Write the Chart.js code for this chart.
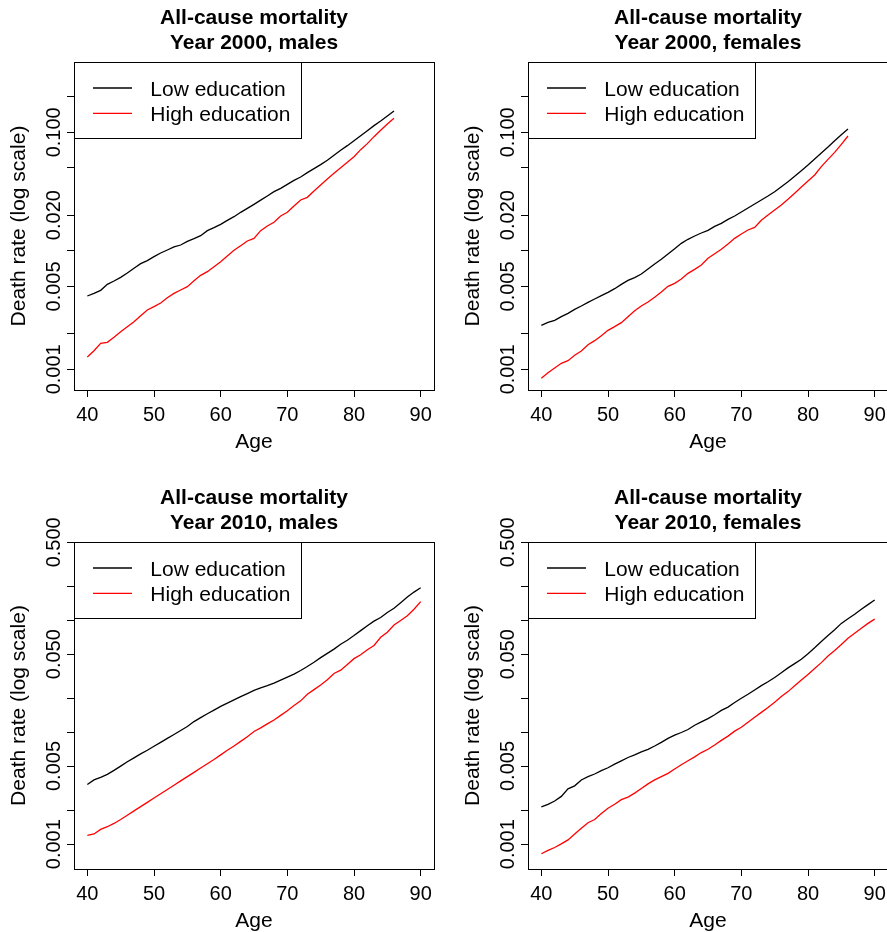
<!DOCTYPE html>
<html>
<head>
<meta charset="utf-8">
<script src="https://cdn.jsdelivr.net/npm/chart.js@4.4.1/dist/chart.umd.min.js"></script>
<style>
  html, body { margin: 0; padding: 0; background: #fff; }
  #wrap { position: relative; width: 887px; height: 932px; overflow: hidden; background: #fff; }
  canvas { position: absolute; display: block; }
</style>
</head>
<body>
<div id="wrap">
  <canvas id="m2000" width="443" height="466" style="left:0px;top:0px;"></canvas>
  <canvas id="f2000" width="460" height="466" style="left:443px;top:0px;"></canvas>
  <canvas id="m2010" width="443" height="466" style="left:0px;top:466px;"></canvas>
  <canvas id="f2010" width="460" height="466" style="left:443px;top:466px;"></canvas>
</div>
<script>
// Age groups
const ages2000 = [40,41,42,43,44,45,46,47,48,49,50,51,52,53,54,55,56,57,58,59,60,61,62,63,64,65,66,67,68,69,70,71,72,73,74,75,76,77,78,79,80,81,82,83,84,85,86];
const ages2010 = [40,41,42,43,44,45,46,47,48,49,50,51,52,53,54,55,56,57,58,59,60,61,62,63,64,65,66,67,68,69,70,71,72,73,74,75,76,77,78,79,80,81,82,83,84,85,86,87,88,89,90];

// Death rates, year 2000
const males2000Low = [0.004156,0.004376,0.004639,0.005212,0.005562,0.005972,0.006497,0.007112,0.007788,0.008255,0.008923,0.009582,0.01016,0.01077,0.01119,0.01202,0.01266,0.01342,0.01479,0.01568,0.01672,0.01808,0.01941,0.02112,0.02283,0.02467,0.02675,0.02900,0.03155,0.03366,0.03638,0.03932,0.04196,0.04564,0.04933,0.05333,0.05800,0.06391,0.07044,0.07716,0.08503,0.09367,0.1032,0.1138,0.1246,0.1373,0.1512];
const males2000High = [0.001270,0.001436,0.001656,0.001689,0.001861,0.002078,0.002290,0.002523,0.002835,0.003166,0.003378,0.003627,0.004022,0.004376,0.004669,0.004981,0.005597,0.006209,0.006668,0.007346,0.008093,0.009040,0.01009,0.01105,0.01210,0.01274,0.01479,0.01619,0.01739,0.01967,0.02112,0.02388,0.02684,0.02827,0.03196,0.03592,0.04036,0.04506,0.05029,0.05580,0.06229,0.07137,0.08020,0.09188,0.1039,0.1175,0.1312];
const females2000Low = [0.002350,0.002490,0.002589,0.002781,0.002967,0.003206,0.003421,0.003674,0.003919,0.004182,0.004462,0.004790,0.005212,0.005634,0.005934,0.006372,0.007021,0.007737,0.008472,0.009397,0.01042,0.01156,0.01250,0.01333,0.01413,0.01488,0.01609,0.01705,0.01843,0.01967,0.02126,0.02297,0.02483,0.02684,0.02900,0.03155,0.03477,0.03831,0.04250,0.04746,0.05298,0.05953,0.06689,0.07515,0.08502,0.09550,0.1066];
const females2000High = [0.000839,0.000937,0.001026,0.001123,0.001183,0.001312,0.001427,0.001614,0.001744,0.001922,0.002132,0.002290,0.002475,0.002781,0.003125,0.003421,0.003698,0.004048,0.004491,0.005013,0.005314,0.005781,0.006454,0.006975,0.007590,0.008639,0.009430,0.01029,0.01141,0.01274,0.01387,0.01498,0.01578,0.01808,0.02005,0.02210,0.02435,0.02719,0.03055,0.03455,0.03882,0.04362,0.05129,0.05914,0.06775,0.07916,0.09307];

// Death rates, year 2010
const males2010Low = [0.003414,0.003754,0.003965,0.004213,0.004571,0.004993,0.005452,0.005916,0.006417,0.006916,0.007503,0.008135,0.008828,0.009575,0.01039,0.01127,0.01248,0.01353,0.01468,0.01582,0.01705,0.01824,0.01952,0.02089,0.02221,0.02369,0.02493,0.02614,0.02759,0.02934,0.03117,0.03313,0.03572,0.03874,0.04230,0.04653,0.05081,0.05550,0.06142,0.06664,0.07330,0.08119,0.08985,0.09879,0.1064,0.1179,0.1287,0.1444,0.1621,0.1795,0.1961];
const males2010High = [0.001201,0.001234,0.001357,0.001433,0.001533,0.001663,0.001816,0.001984,0.002168,0.002367,0.002585,0.002823,0.003084,0.003369,0.003680,0.004018,0.004388,0.004793,0.005235,0.005717,0.006288,0.006916,0.007551,0.008305,0.009131,0.01018,0.01097,0.01190,0.01291,0.01419,0.01561,0.01740,0.01913,0.02191,0.02409,0.02649,0.02953,0.03359,0.03595,0.04034,0.04560,0.04945,0.05473,0.05979,0.07086,0.07847,0.09107,0.1001,0.1101,0.1261,0.1474];
const females2010Low = [0.002152,0.002273,0.002432,0.002675,0.003126,0.003323,0.003754,0.004018,0.004242,0.004540,0.004825,0.005200,0.005566,0.005956,0.006288,0.006683,0.007056,0.007551,0.008135,0.008828,0.009447,0.009972,0.01060,0.01158,0.01239,0.01326,0.01438,0.01571,0.01682,0.01849,0.02020,0.02191,0.02393,0.02614,0.02836,0.03097,0.03406,0.03771,0.04118,0.04497,0.05047,0.05703,0.06487,0.07329,0.08282,0.09421,0.1036,0.1139,0.1261,0.1387,0.1525];
const females2010High = [0.000821,0.000879,0.000934,0.001007,0.001092,0.001234,0.001385,0.001554,0.001663,0.001879,0.002095,0.002273,0.002499,0.002638,0.002862,0.003147,0.003462,0.003754,0.004018,0.004300,0.004698,0.005131,0.005566,0.006036,0.006594,0.007056,0.007704,0.008475,0.009256,0.01025,0.01112,0.01231,0.01363,0.01509,0.01671,0.01862,0.02089,0.02313,0.02614,0.02934,0.03291,0.03719,0.04202,0.04813,0.05401,0.06103,0.06942,0.07688,0.08512,0.09422,0.1029];

// Axis ticks and labels
const xTicks = [40, 50, 60, 70, 80, 90];
const yTicks2000 = [0.001, 0.002, 0.005, 0.01, 0.02, 0.05, 0.1, 0.2];
const yLabelValues2000 = [0.001, 0.005, 0.02, 0.1];
const yLabels2000 = ['0.001', '0.005', '0.020', '0.100'];
const yTicks2010 = [0.001, 0.002, 0.005, 0.01, 0.02, 0.05, 0.1, 0.2, 0.5];
const yLabelValues2010 = [0.001, 0.005, 0.05, 0.5];
const yLabels2010 = ['0.001', '0.005', '0.050', '0.500'];

const seriesNames = ['Low education', 'High education'];
const seriesColors = ['#000000', '#ff0000'];
const mainTitle = 'All-cause mortality';
const xTitle = 'Age';
const yTitle = 'Death rate (log scale)';

const FONT = '"Liberation Sans", Arial, Helvetica, sans-serif';

// Frame, legend and text drawn in base-graphics style
const framePlugin = {
  id: 'frame',
  afterDraw(chart) {
    const p = chart.options.plugins.frame;
    const ctx = chart.ctx;
    const a = chart.chartArea;
    const ys = chart.scales.y;
    const xs = chart.scales.x;
    const cx = (a.left + a.right) / 2;
    ctx.save();
    ctx.fillStyle = '#000';
    ctx.strokeStyle = '#000';
    ctx.lineWidth = 1;

    // plot box
    ctx.strokeRect(Math.round(a.left) + 0.5, Math.round(a.top) + 0.5,
                   Math.round(a.right - a.left), Math.round(a.bottom - a.top));

    // legend
    const lx = Math.round(a.left) + 0.5, ly = Math.round(a.top) + 0.5;
    ctx.fillStyle = '#fff';
    ctx.fillRect(lx, ly, 227, 76);
    ctx.strokeStyle = '#000';
    ctx.strokeRect(lx, ly, 227, 76);
    ctx.font = '21px ' + FONT;
    ctx.textAlign = 'left';
    ctx.textBaseline = 'alphabetic';
    for (let i = 0; i < seriesNames.length; i++) {
      const yy = a.top + 26 + i * 25.4;
      ctx.strokeStyle = seriesColors[i];
      ctx.lineWidth = 1.3;
      ctx.beginPath();
      ctx.moveTo(a.left + 19, yy);
      ctx.lineTo(a.left + 58, yy);
      ctx.stroke();
      ctx.fillStyle = '#000';
      ctx.fillText(seriesNames[i], a.left + 76.3, yy + 7.8);
    }

    // titles
    ctx.fillStyle = '#000';
    ctx.textAlign = 'center';
    ctx.font = 'bold 21px ' + FONT;
    ctx.fillText(mainTitle, cx, a.top - 38.5);
    ctx.fillText(p.subtitle, cx, a.top - 13.3);

    // x tick labels
    ctx.font = '20px ' + FONT;
    xTicks.forEach(v => {
      ctx.fillText(String(v), xs.getPixelForValue(v), a.bottom + 31);
    });

    // y tick labels (parallel to the axis)
    p.yLabelValues.forEach((v, i) => {
      ctx.save();
      ctx.translate(a.left - 14, ys.getPixelForValue(v));
      ctx.rotate(-Math.PI / 2);
      ctx.fillText(p.yLabels[i], 0, 0);
      ctx.restore();
    });

    // axis titles
    ctx.font = '21px ' + FONT;
    ctx.fillText(xTitle, cx, a.bottom + 57.5);
    ctx.save();
    ctx.translate(a.left - 49.5, (a.top + a.bottom) / 2);
    ctx.rotate(-Math.PI / 2);
    ctx.fillText(yTitle, 0, 0);
    ctx.restore();

    ctx.restore();
  }
};

function makePanel(id, spec) {
  const toPts = (arr) => spec.ages.map((a, i) => ({ x: a, y: arr[i] }));
  return new Chart(document.getElementById(id), {
    type: 'line',
    data: {
      datasets: [
        { label: seriesNames[0], data: toPts(spec.low), borderColor: seriesColors[0], borderWidth: 1.3, pointRadius: 0, tension: 0, fill: false },
        { label: seriesNames[1], data: toPts(spec.high), borderColor: seriesColors[1], borderWidth: 1.3, pointRadius: 0, tension: 0, fill: false }
      ]
    },
    options: {
      responsive: false,
      animation: false,
      devicePixelRatio: 1,
      events: [],
      layout: { padding: { top: spec.padTop, right: spec.padRight, left: 0, bottom: 0 } },
      plugins: {
        legend: { display: false },
        tooltip: { enabled: false },
        title: { display: false },
        frame: { subtitle: spec.subtitle, yLabelValues: spec.yLabelValues, yLabels: spec.yLabels }
      },
      scales: {
        x: {
          type: 'linear',
          min: 38, max: 92,
          afterBuildTicks: s => { s.ticks = xTicks.map(v => ({ value: v })); },
          afterFit: s => { s.height = spec.xAxisH; },
          ticks: { display: false },
          border: { display: false },
          grid: { drawOnChartArea: false, drawTicks: true, tickLength: 7, color: '#000', lineWidth: 1 }
        },
        y: {
          type: 'logarithmic',
          min: spec.yMin, max: spec.yMax,
          afterBuildTicks: s => { s.ticks = spec.yTicks.map(v => ({ value: v })); },
          afterFit: s => { s.width = spec.yAxisW; },
          ticks: { display: false },
          border: { display: false },
          grid: { drawOnChartArea: false, drawTicks: true, tickLength: 7, color: '#000', lineWidth: 1 }
        }
      }
    },
    plugins: [framePlugin]
  });
}

const top2000 = { yMin: 0.0006688, yMax: 0.3920, yTicks: yTicks2000, yLabelValues: yLabelValues2000, yLabels: yLabels2000, padTop: 62, xAxisH: 76 };
const bottom2010 = { yMin: 0.0006478, yMax: 0.5034, yTicks: yTicks2010, yLabelValues: yLabelValues2010, yLabels: yLabels2010, padTop: 76, xAxisH: 63 };

makePanel('m2000', Object.assign({}, top2000, { ages: ages2000, low: males2000Low, high: males2000High, subtitle: 'Year 2000, males', yAxisW: 74, padRight: 9 }));
makePanel('f2000', Object.assign({}, top2000, { ages: ages2000, low: females2000Low, high: females2000High, subtitle: 'Year 2000, females', yAxisW: 85, padRight: 15 }));
makePanel('m2010', Object.assign({}, bottom2010, { ages: ages2010, low: males2010Low, high: males2010High, subtitle: 'Year 2010, males', yAxisW: 74, padRight: 9 }));
makePanel('f2010', Object.assign({}, bottom2010, { ages: ages2010, low: females2010Low, high: females2010High, subtitle: 'Year 2010, females', yAxisW: 85, padRight: 15 }));
</script>
</body>
</html>
